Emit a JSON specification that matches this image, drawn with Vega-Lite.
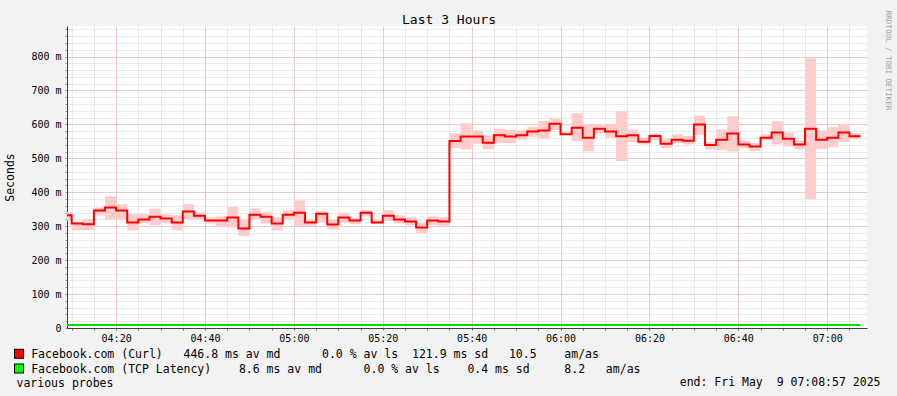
{
  "$schema": "https://vega.github.io/schema/vega-lite/v6.json",
  "width": 800,
  "height": 302,
  "autosize": {"type": "none"},
  "padding": {"left": 67, "top": 26, "right": 30, "bottom": 68},
  "background": "#f2f2f2",
  "config": {"view": {"fill": "#ffffff", "stroke": null}, "font": "DejaVu Sans Mono"},
  "data": {"values": [
    {"k":0,"t":"2025-05-09T04:08:57","t2":"2025-05-09T04:10:00","med":332,"lo":316,"hi":342,"tcp":8.6},
    {"k":1,"t":"2025-05-09T04:10:00","t2":"2025-05-09T04:12:30","med":308,"lo":288,"hi":313,"tcp":8.6},
    {"k":2,"t":"2025-05-09T04:12:30","t2":"2025-05-09T04:15:00","med":306,"lo":288,"hi":320,"tcp":8.5},
    {"k":3,"t":"2025-05-09T04:15:00","t2":"2025-05-09T04:17:30","med":346,"lo":332,"hi":355,"tcp":8.6},
    {"k":4,"t":"2025-05-09T04:17:30","t2":"2025-05-09T04:20:00","med":355,"lo":320,"hi":388,"tcp":8.7},
    {"k":5,"t":"2025-05-09T04:20:00","t2":"2025-05-09T04:22:30","med":346,"lo":320,"hi":365,"tcp":8.6},
    {"k":6,"t":"2025-05-09T04:22:30","t2":"2025-05-09T04:25:00","med":311,"lo":288,"hi":335,"tcp":8.6},
    {"k":7,"t":"2025-05-09T04:25:00","t2":"2025-05-09T04:27:30","med":320,"lo":309,"hi":335,"tcp":8.5},
    {"k":8,"t":"2025-05-09T04:27:30","t2":"2025-05-09T04:30:00","med":328,"lo":303,"hi":352,"tcp":8.6},
    {"k":9,"t":"2025-05-09T04:30:00","t2":"2025-05-09T04:32:30","med":323,"lo":309,"hi":335,"tcp":8.6},
    {"k":10,"t":"2025-05-09T04:32:30","t2":"2025-05-09T04:35:00","med":311,"lo":288,"hi":332,"tcp":8.7},
    {"k":11,"t":"2025-05-09T04:35:00","t2":"2025-05-09T04:37:30","med":343,"lo":320,"hi":365,"tcp":8.6},
    {"k":12,"t":"2025-05-09T04:37:30","t2":"2025-05-09T04:40:00","med":331,"lo":320,"hi":341,"tcp":8.6},
    {"k":13,"t":"2025-05-09T04:40:00","t2":"2025-05-09T04:42:30","med":317,"lo":308,"hi":326,"tcp":8.5},
    {"k":14,"t":"2025-05-09T04:42:30","t2":"2025-05-09T04:45:00","med":317,"lo":300,"hi":329,"tcp":8.6},
    {"k":15,"t":"2025-05-09T04:45:00","t2":"2025-05-09T04:47:30","med":326,"lo":296,"hi":357,"tcp":8.6},
    {"k":16,"t":"2025-05-09T04:47:30","t2":"2025-05-09T04:50:00","med":293,"lo":271,"hi":320,"tcp":8.7},
    {"k":17,"t":"2025-05-09T04:50:00","t2":"2025-05-09T04:52:30","med":334,"lo":320,"hi":352,"tcp":8.6},
    {"k":18,"t":"2025-05-09T04:52:30","t2":"2025-05-09T04:55:00","med":328,"lo":308,"hi":342,"tcp":8.6},
    {"k":19,"t":"2025-05-09T04:55:00","t2":"2025-05-09T04:57:30","med":308,"lo":288,"hi":326,"tcp":8.6},
    {"k":20,"t":"2025-05-09T04:57:30","t2":"2025-05-09T05:00:00","med":334,"lo":320,"hi":347,"tcp":8.5},
    {"k":21,"t":"2025-05-09T05:00:00","t2":"2025-05-09T05:02:30","med":340,"lo":301,"hi":376,"tcp":8.6},
    {"k":22,"t":"2025-05-09T05:02:30","t2":"2025-05-09T05:05:00","med":311,"lo":301,"hi":320,"tcp":8.6},
    {"k":23,"t":"2025-05-09T05:05:00","t2":"2025-05-09T05:07:30","med":337,"lo":311,"hi":344,"tcp":8.7},
    {"k":24,"t":"2025-05-09T05:07:30","t2":"2025-05-09T05:10:00","med":305,"lo":291,"hi":320,"tcp":8.6},
    {"k":25,"t":"2025-05-09T05:10:00","t2":"2025-05-09T05:12:30","med":326,"lo":310,"hi":340,"tcp":8.6},
    {"k":26,"t":"2025-05-09T05:12:30","t2":"2025-05-09T05:15:00","med":317,"lo":306,"hi":324,"tcp":8.5},
    {"k":27,"t":"2025-05-09T05:15:00","t2":"2025-05-09T05:17:30","med":340,"lo":329,"hi":348,"tcp":8.6},
    {"k":28,"t":"2025-05-09T05:17:30","t2":"2025-05-09T05:20:00","med":311,"lo":308,"hi":318,"tcp":8.6},
    {"k":29,"t":"2025-05-09T05:20:00","t2":"2025-05-09T05:22:30","med":331,"lo":316,"hi":347,"tcp":8.6},
    {"k":30,"t":"2025-05-09T05:22:30","t2":"2025-05-09T05:25:00","med":320,"lo":308,"hi":332,"tcp":8.7},
    {"k":31,"t":"2025-05-09T05:25:00","t2":"2025-05-09T05:27:30","med":314,"lo":303,"hi":326,"tcp":8.6},
    {"k":32,"t":"2025-05-09T05:27:30","t2":"2025-05-09T05:30:00","med":296,"lo":279,"hi":310,"tcp":8.6},
    {"k":33,"t":"2025-05-09T05:30:00","t2":"2025-05-09T05:32:30","med":317,"lo":303,"hi":329,"tcp":8.5},
    {"k":34,"t":"2025-05-09T05:32:30","t2":"2025-05-09T05:35:00","med":314,"lo":300,"hi":327,"tcp":8.6},
    {"k":35,"t":"2025-05-09T05:35:00","t2":"2025-05-09T05:37:30","med":551,"lo":530,"hi":574,"tcp":8.6},
    {"k":36,"t":"2025-05-09T05:37:30","t2":"2025-05-09T05:40:00","med":564,"lo":526,"hi":604,"tcp":8.7},
    {"k":37,"t":"2025-05-09T05:40:00","t2":"2025-05-09T05:42:30","med":564,"lo":543,"hi":582,"tcp":8.6},
    {"k":38,"t":"2025-05-09T05:42:30","t2":"2025-05-09T05:45:00","med":546,"lo":527,"hi":568,"tcp":8.6},
    {"k":39,"t":"2025-05-09T05:45:00","t2":"2025-05-09T05:47:30","med":568,"lo":545,"hi":587,"tcp":8.6},
    {"k":40,"t":"2025-05-09T05:47:30","t2":"2025-05-09T05:50:00","med":564,"lo":545,"hi":584,"tcp":8.5},
    {"k":41,"t":"2025-05-09T05:50:00","t2":"2025-05-09T05:52:30","med":568,"lo":555,"hi":582,"tcp":8.6},
    {"k":42,"t":"2025-05-09T05:52:30","t2":"2025-05-09T05:55:00","med":579,"lo":563,"hi":592,"tcp":8.6},
    {"k":43,"t":"2025-05-09T05:55:00","t2":"2025-05-09T05:57:30","med":582,"lo":558,"hi":610,"tcp":8.7},
    {"k":44,"t":"2025-05-09T05:57:30","t2":"2025-05-09T06:00:00","med":602,"lo":584,"hi":618,"tcp":8.6},
    {"k":45,"t":"2025-05-09T06:00:00","t2":"2025-05-09T06:02:30","med":571,"lo":569,"hi":579,"tcp":8.6},
    {"k":46,"t":"2025-05-09T06:02:30","t2":"2025-05-09T06:05:00","med":590,"lo":551,"hi":633,"tcp":8.6},
    {"k":47,"t":"2025-05-09T06:05:00","t2":"2025-05-09T06:07:30","med":561,"lo":521,"hi":600,"tcp":8.5},
    {"k":48,"t":"2025-05-09T06:07:30","t2":"2025-05-09T06:10:00","med":587,"lo":573,"hi":600,"tcp":8.6},
    {"k":49,"t":"2025-05-09T06:10:00","t2":"2025-05-09T06:12:30","med":579,"lo":561,"hi":599,"tcp":8.6},
    {"k":50,"t":"2025-05-09T06:12:30","t2":"2025-05-09T06:15:00","med":565,"lo":492,"hi":639,"tcp":8.7},
    {"k":51,"t":"2025-05-09T06:15:00","t2":"2025-05-09T06:17:30","med":568,"lo":548,"hi":584,"tcp":8.6},
    {"k":52,"t":"2025-05-09T06:17:30","t2":"2025-05-09T06:20:00","med":549,"lo":541,"hi":561,"tcp":8.6},
    {"k":53,"t":"2025-05-09T06:20:00","t2":"2025-05-09T06:22:30","med":566,"lo":553,"hi":573,"tcp":8.6},
    {"k":54,"t":"2025-05-09T06:22:30","t2":"2025-05-09T06:25:00","med":543,"lo":530,"hi":558,"tcp":8.5},
    {"k":55,"t":"2025-05-09T06:25:00","t2":"2025-05-09T06:27:30","med":555,"lo":545,"hi":570,"tcp":8.6},
    {"k":56,"t":"2025-05-09T06:27:30","t2":"2025-05-09T06:30:00","med":552,"lo":541,"hi":566,"tcp":8.6},
    {"k":57,"t":"2025-05-09T06:30:00","t2":"2025-05-09T06:32:30","med":600,"lo":569,"hi":626,"tcp":8.7},
    {"k":58,"t":"2025-05-09T06:32:30","t2":"2025-05-09T06:35:00","med":539,"lo":526,"hi":548,"tcp":8.6},
    {"k":59,"t":"2025-05-09T06:35:00","t2":"2025-05-09T06:37:30","med":555,"lo":524,"hi":585,"tcp":8.6},
    {"k":60,"t":"2025-05-09T06:37:30","t2":"2025-05-09T06:40:00","med":573,"lo":520,"hi":624,"tcp":8.6},
    {"k":61,"t":"2025-05-09T06:40:00","t2":"2025-05-09T06:42:30","med":541,"lo":530,"hi":553,"tcp":8.5},
    {"k":62,"t":"2025-05-09T06:42:30","t2":"2025-05-09T06:45:00","med":535,"lo":521,"hi":545,"tcp":8.6},
    {"k":63,"t":"2025-05-09T06:45:00","t2":"2025-05-09T06:47:30","med":561,"lo":553,"hi":571,"tcp":8.6},
    {"k":64,"t":"2025-05-09T06:47:30","t2":"2025-05-09T06:50:00","med":576,"lo":541,"hi":609,"tcp":8.7},
    {"k":65,"t":"2025-05-09T06:50:00","t2":"2025-05-09T06:52:30","med":558,"lo":535,"hi":576,"tcp":8.6},
    {"k":66,"t":"2025-05-09T06:52:30","t2":"2025-05-09T06:55:00","med":541,"lo":527,"hi":553,"tcp":8.6},
    {"k":67,"t":"2025-05-09T06:55:00","t2":"2025-05-09T06:57:30","med":587,"lo":380,"hi":795,"tcp":8.6},
    {"k":68,"t":"2025-05-09T06:57:30","t2":"2025-05-09T07:00:00","med":555,"lo":528,"hi":582,"tcp":8.5},
    {"k":69,"t":"2025-05-09T07:00:00","t2":"2025-05-09T07:02:30","med":561,"lo":533,"hi":592,"tcp":8.6},
    {"k":70,"t":"2025-05-09T07:02:30","t2":"2025-05-09T07:05:00","med":576,"lo":548,"hi":600,"tcp":8.6},
    {"k":71,"t":"2025-05-09T07:05:00","t2":"2025-05-09T07:07:30","med":565,"lo":556,"hi":574,"tcp":8.6}
  ]},
  "resolve": {"axis": {"x": "independent", "y": "independent"}},
  "layer": [
    {
      "mark": {"type": "rect", "fill": "#ffcccc", "strokeWidth": 0},
      "encoding": {
        "x": {"field": "t", "type": "temporal",
          "scale": {"domain": [{"year": 2025, "month": 5, "date": 9, "hours": 4, "minutes": 8, "seconds": 57}, {"year": 2025, "month": 5, "date": 9, "hours": 7, "minutes": 8, "seconds": 57}]},
          "axis": {
            "orient": "bottom",
            "tickCount": 36,
            "labelExpr": "minutes(datum.value) % 20 === 0 ? timeFormat(datum.value, '%H:%M') : ''",
            "labelOverlap": false, "labelFlush": false,
            "labelFont": "DejaVu Sans Mono", "labelFontSize": 10, "labelColor": "#000000", "labelPadding": 3,
            "tickSize": 2, "tickColor": "#707070", "domainColor": "#404040",
            "grid": true,
            "gridColor": "#d4d4d4",
            "gridDash": [1, 1],
            "title": "end: Fri May\u00a0\u00a09 07:08:57 2025",
            "titleFont": "DejaVu Sans Mono", "titleFontSize": 11.5, "titleFontWeight": "normal", "titleColor": "#000000",
            "titleX": 813, "titleY": 57.5, "titleAlign": "right", "titleBaseline": "alphabetic", "titleAnchor": "end"
          }},
        "x2": {"field": "t2"},
        "y": {"field": "lo", "type": "quantitative",
          "scale": {"domain": [0, 890], "nice": false, "zero": false},
          "axis": {
            "orient": "left",
            "values": [0,20,40,60,80,100,120,140,160,180,200,220,240,260,280,300,320,340,360,380,400,420,440,460,480,500,520,540,560,580,600,620,640,660,680,700,720,740,760,780,800,820,840,860,880],
            "labelExpr": "datum.value % 100 === 0 ? (datum.value === 0 ? '0' : datum.value + ' m') : ''",
            "labelOverlap": false,
            "labelFont": "DejaVu Sans Mono", "labelFontSize": 10, "labelColor": "#000000", "labelPadding": 4,
            "tickSize": 2, "tickColor": "#909090", "domainColor": "#404040",
            "grid": true,
            "gridColor": "#d4d4d4",
            "gridDash": [1, 1],
            "title": "Seconds",
            "titleFont": "DejaVu Sans Mono", "titleFontSize": 11.5, "titleFontWeight": "normal", "titleColor": "#000000",
            "titleX": -56.5, "titleY": 151, "titleAngle": -90, "titleAlign": "center", "titleBaseline": "middle"
          }},
        "y2": {"field": "hi"}
      }
    },
    {
      "transform": [
        {"fold": ["med", "tcp"], "as": ["series", "ms"]},
        {"fold": ["t", "t2"], "as": ["edge", "time"]}
      ],
      "mark": {"type": "line", "strokeWidth": 2, "strokeCap": "butt", "strokeJoin": "miter"},
      "encoding": {
        "x": {"field": "time", "type": "temporal",
          "scale": {"domain": [{"year": 2025, "month": 5, "date": 9, "hours": 4, "minutes": 8, "seconds": 57}, {"year": 2025, "month": 5, "date": 9, "hours": 7, "minutes": 8, "seconds": 57}]},
          "axis": {
            "orient": "top",
            "values": [
              {"year": 2025, "month": 5, "date": 9, "hours": 4, "minutes": 20},
              {"year": 2025, "month": 5, "date": 9, "hours": 4, "minutes": 40},
              {"year": 2025, "month": 5, "date": 9, "hours": 5, "minutes": 0},
              {"year": 2025, "month": 5, "date": 9, "hours": 5, "minutes": 20},
              {"year": 2025, "month": 5, "date": 9, "hours": 5, "minutes": 40},
              {"year": 2025, "month": 5, "date": 9, "hours": 6, "minutes": 0},
              {"year": 2025, "month": 5, "date": 9, "hours": 6, "minutes": 20},
              {"year": 2025, "month": 5, "date": 9, "hours": 6, "minutes": 40},
              {"year": 2025, "month": 5, "date": 9, "hours": 7, "minutes": 0}
            ],
            "labels": false, "ticks": false, "domain": false,
            "grid": true, "gridColor": "#f4a8a8", "gridDash": [1, 1],
            "title": "Last 3 Hours",
            "titleFont": "DejaVu Sans Mono", "titleFontSize": 13, "titleFontWeight": "normal", "titleColor": "#000000",
            "titleX": 381.5, "titleY": -3, "titleAlign": "center", "titleBaseline": "alphabetic", "titleAngle": 0
          }},
        "y": {"field": "ms", "type": "quantitative", "scale": {"domain": [0, 890], "nice": false, "zero": false},
          "axis": {
            "orient": "right",
            "values": [0, 100, 200, 300, 400, 500, 600, 700, 800],
            "labels": false, "ticks": false, "domain": false,
            "grid": true, "gridColor": "#f4a8a8", "gridDash": [1, 1],
            "title": "RRDTOOL / TOBI OETIKER", "titleAngle": 90, "titleX": 20, "titleY": 34,
            "titleAlign": "center", "titleBaseline": "middle",
            "titleFont": "DejaVu Sans Mono", "titleFontSize": 7.5, "titleFontWeight": "normal", "titleColor": "#a0a0a0"
          }},
        "stroke": {"field": "series", "type": "nominal", "scale": {"domain": ["med", "tcp"], "range": ["#ff0000", "#00e000"]}, "legend": null},
        "order": [{"field": "k", "type": "quantitative"}, {"field": "edge", "type": "ordinal"}]
      }
    },
    {
      "mark": {"type": "point", "opacity": 0},
      "encoding": {
        "x": {"field": "t", "type": "temporal",
          "scale": {"domain": [{"year": 2025, "month": 5, "date": 9, "hours": 4, "minutes": 8, "seconds": 57}, {"year": 2025, "month": 5, "date": 9, "hours": 7, "minutes": 8, "seconds": 57}]},
          "axis": {
            "orient": "bottom", "offset": 20.3, "labels": false, "domain": false, "grid": false,
            "ticks": true, "values": [{"year": 2025, "month": 5, "date": 9, "hours": 4, "minutes": 9, "seconds": 0}],
            "tickOffset": -48.7, "tickSize": 10, "tickWidth": 10, "tickColor": "#000000", "tickRound": false,
            "title": ["Facebook.com (Curl)\u00a0\u00a0\u00a0446.8 ms av md\u00a0\u00a0\u00a0\u00a0\u00a0\u00a00.0 % av ls\u00a0\u00a0121.9 ms sd\u00a0\u00a0\u00a010.5\u00a0\u00a0\u00a0\u00a0am/as", "Facebook.com (TCP Latency)\u00a0\u00a0\u00a0\u00a08.6 ms av md\u00a0\u00a0\u00a0\u00a0\u00a0\u00a00.0 % av ls\u00a0\u00a0\u00a0\u00a00.4 ms sd\u00a0\u00a0\u00a0\u00a0\u00a08.2\u00a0\u00a0\u00a0am/as"],
            "titleFont": "DejaVu Sans Mono", "titleFontSize": 11.5, "titleFontWeight": "normal", "titleColor": "#000000",
            "titleX": -36.3, "titleY": 9.2, "titleAlign": "left", "titleBaseline": "alphabetic", "titleLineHeight": 14.5
          }},
        "y": {"field": "med", "type": "quantitative", "scale": {"domain": [0, 890], "nice": false, "zero": false}, "axis": null}
      }
    },
    {
      "mark": {"type": "point", "opacity": 0},
      "encoding": {
        "x": {"field": "t", "type": "temporal",
          "scale": {"domain": [{"year": 2025, "month": 5, "date": 9, "hours": 4, "minutes": 8, "seconds": 57}, {"year": 2025, "month": 5, "date": 9, "hours": 7, "minutes": 8, "seconds": 57}]},
          "axis": {
            "orient": "bottom", "offset": 35, "labels": false, "domain": false, "grid": false,
            "ticks": true, "values": [{"year": 2025, "month": 5, "date": 9, "hours": 4, "minutes": 9, "seconds": 0}],
            "tickOffset": -48.7, "tickSize": 10, "tickWidth": 10, "tickColor": "#000000", "tickRound": false,
            "title": "various probes",
            "titleFont": "DejaVu Sans Mono", "titleFontSize": 11.5, "titleFontWeight": "normal", "titleColor": "#000000",
            "titleX": -51, "titleY": 23.5, "titleAlign": "left", "titleBaseline": "alphabetic"
          }},
        "y": {"field": "med", "type": "quantitative", "scale": {"domain": [0, 890], "nice": false, "zero": false}, "axis": null}
      }
    },
    {
      "mark": {"type": "point", "opacity": 0},
      "encoding": {
        "x": {"field": "t", "type": "temporal",
          "scale": {"domain": [{"year": 2025, "month": 5, "date": 9, "hours": 4, "minutes": 8, "seconds": 57}, {"year": 2025, "month": 5, "date": 9, "hours": 7, "minutes": 8, "seconds": 57}]},
          "axis": {
            "orient": "bottom", "offset": 21.3, "labels": false, "domain": false, "grid": false,
            "ticks": true, "values": [{"year": 2025, "month": 5, "date": 9, "hours": 4, "minutes": 9, "seconds": 0}],
            "tickOffset": -48.7, "tickSize": 8, "tickWidth": 8, "tickColor": "#ff0000", "tickRound": false,
            "title": null
          }},
        "y": {"field": "med", "type": "quantitative", "scale": {"domain": [0, 890], "nice": false, "zero": false}, "axis": null}
      }
    },
    {
      "mark": {"type": "point", "opacity": 0},
      "encoding": {
        "x": {"field": "t", "type": "temporal",
          "scale": {"domain": [{"year": 2025, "month": 5, "date": 9, "hours": 4, "minutes": 8, "seconds": 57}, {"year": 2025, "month": 5, "date": 9, "hours": 7, "minutes": 8, "seconds": 57}]},
          "axis": {
            "orient": "bottom", "offset": 36, "labels": false, "domain": false, "grid": false,
            "ticks": true, "values": [{"year": 2025, "month": 5, "date": 9, "hours": 4, "minutes": 9, "seconds": 0}],
            "tickOffset": -48.7, "tickSize": 8, "tickWidth": 8, "tickColor": "#00ff00", "tickRound": false,
            "title": null
          }},
        "y": {"field": "tcp", "type": "quantitative", "scale": {"domain": [0, 890], "nice": false, "zero": false}, "axis": null}
      }
    }
  ]
}
